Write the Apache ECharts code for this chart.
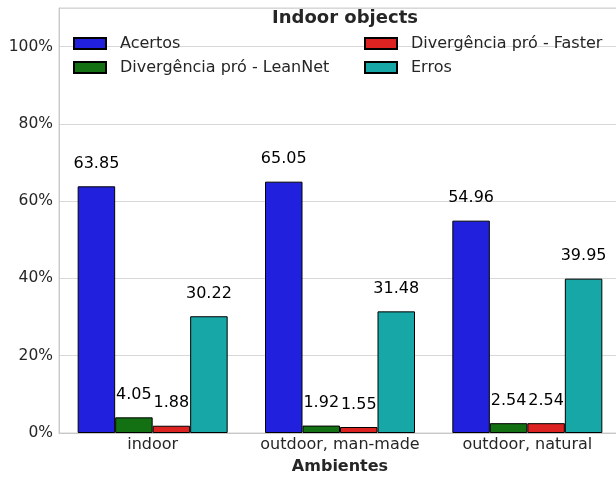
<!DOCTYPE html>
<html>
<head>
<meta charset="utf-8">
<script src="https://cdn.jsdelivr.net/npm/echarts@6/dist/echarts.min.js"></script>
<style>
  html, body { margin: 0; padding: 0; background: #fff; }
  #chart { width: 616px; height: 477px; }
</style>
</head>
<body>
<div id="chart"></div>
<script>
// Environment categories and the share (%) of each outcome
const categories = ['indoor', 'outdoor, man-made', 'outdoor, natural'];
const acertos = [63.85, 65.05, 54.96];
const divLeanNet = [4.05, 1.92, 2.54];
const divFaster = [1.88, 1.55, 2.54];
const erros = [30.22, 31.48, 39.95];
const yTicks = [0, 20, 40, 60, 80, 100];

const FONT = 'DejaVu Sans';
const TXT = '#262626';

function barSeries(name, data, color) {
  return {
    name: name,
    type: 'bar',
    data: data,
    barWidth: 37.5,
    barGap: '0%',
    itemStyle: { color: color, borderColor: '#000', borderWidth: 1 },
    label: {
      show: true,
      position: 'top',
      distance: 14.5,
      fontFamily: FONT,
      fontSize: 16,
      color: '#000',
      formatter: p => p.value.toFixed(2)
    }
  };
}

const chart = echarts.init(document.getElementById('chart'), null, { renderer: 'canvas' });

const legendText = {
  fontFamily: FONT, fontSize: 16, color: TXT, lineHeight: 19,
  padding: [0, 0, 0, 9]
};

chart.setOption({
  animation: false,
  backgroundColor: '#fff',
  title: {
    text: 'Indoor objects',
    left: 340,
    top: 4,
    textAlign: 'center',
    textStyle: { fontFamily: FONT, fontSize: 18, fontWeight: 'bold', color: TXT }
  },
  legend: [
    {
      data: ['Acertos', 'Divergência pró - LeanNet'],
      orient: 'vertical',
      left: 73, top: 34, padding: 0,
      itemWidth: 32, itemHeight: 11, itemGap: 5,
      icon: 'rect',
      textStyle: legendText
    },
    {
      data: ['Divergência pró - Faster', 'Erros'],
      orient: 'vertical',
      left: 364, top: 34, padding: 0,
      itemWidth: 32, itemHeight: 11, itemGap: 5,
      icon: 'rect',
      textStyle: legendText
    }
  ],
  grid: {
    left: 59, top: 8, width: 562, height: 425,
    outerBoundsMode: 'none',
    containLabel: false,
    show: true, borderColor: '#d0d0d0', borderWidth: 1
  },
  xAxis: {
    type: 'category',
    data: categories,
    name: 'Ambientes',
    nameLocation: 'middle',
    nameGap: 26,
    nameTextStyle: { fontFamily: FONT, fontSize: 16, fontWeight: 'bold', color: TXT },
    axisLine: { lineStyle: { color: '#c8c8c8', width: 1 } },
    axisTick: { show: false },
    axisLabel: { fontFamily: FONT, fontSize: 16, color: TXT, margin: 4, interval: 0 }
  },
  yAxis: {
    type: 'value',
    min: 0,
    max: 110,
    interval: 20,
    axisLine: { show: true, lineStyle: { color: '#c8c8c8', width: 1 } },
    axisTick: { show: false },
    splitLine: { lineStyle: { color: '#d8d8d8', width: 1 } },
    axisLabel: {
      fontFamily: FONT, fontSize: 15.5, color: TXT, margin: 6,
      formatter: v => yTicks.includes(v) ? v + '%' : ''
    }
  },
  series: [
    barSeries('Acertos', acertos, '#2121dd'),
    barSeries('Divergência pró - LeanNet', divLeanNet, '#137013'),
    barSeries('Divergência pró - Faster', divFaster, '#dd2222'),
    barSeries('Erros', erros, '#17a7a7')
  ]
});
</script>
</body>
</html>
